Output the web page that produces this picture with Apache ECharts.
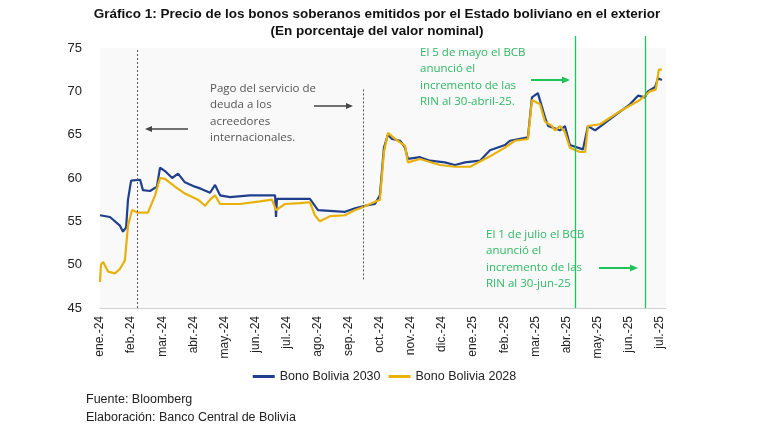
<!DOCTYPE html>
<html><head><meta charset="utf-8">
<script src="https://cdn.jsdelivr.net/npm/echarts@6/dist/echarts.min.js"></script>
<style>html,body{margin:0;background:#fff}#c{width:769px;height:430px}</style>
</head><body><div id="c"></div>
<script>
const months = ['ene.-24','feb.-24','mar.-24','abr.-24','may.-24','jun.-24','jul.-24','ago.-24','sep.-24','oct.-24','nov.-24','dic.-24','ene.-25','feb.-25','mar.-25','abr.-25','may.-25','jun.-25','jul.-25'];
// [month position, price]
const bono2030 = [[0,55.7],[0.32,55.5],[0.64,54.5],[0.74,53.8],[0.84,54.3],[0.9,57.5],[1.0,59.7],[1.29,59.8],[1.38,58.6],[1.61,58.5],[1.83,59],[1.93,61.2],[2.09,60.8],[2.32,60],[2.51,60.5],[2.73,59.5],[3.05,59],[3.22,58.8],[3.54,58.3],[3.7,59.2],[3.86,58],[4.18,57.8],[4.82,58],[5.63,58],[5.66,55.5],[5.69,57.6],[6.75,57.6],[7.01,56.3],[7.88,56.1],[8.2,56.5],[8.52,56.8],[8.84,57],[9.0,58],[9.13,63.5],[9.26,65],[9.39,64.5],[9.65,64.3],[9.81,63.5],[9.9,62.2],[10.29,62.4],[10.61,62],[11.09,61.8],[11.41,61.5],[11.74,61.8],[12.22,62],[12.54,63.2],[13.02,63.8],[13.18,64.3],[13.76,64.7],[13.89,69.3],[14.08,69.8],[14.31,67],[14.41,66],[14.79,65.5],[14.95,66],[15.11,63.8],[15.53,63.3],[15.69,66],[15.92,65.5],[16.4,66.8],[17.04,68.5],[17.3,69.5],[17.52,69.3],[17.62,70],[17.85,70.5],[17.94,71.5],[18.07,71.3]];
const bono2028 = [[0,48],[0.03,50],[0.1,50.3],[0.26,49.2],[0.48,49],[0.64,49.5],[0.8,50.5],[0.9,54.5],[1.03,56.3],[1.22,56],[1.54,56],[1.77,58],[1.93,60],[2.09,59.9],[2.41,59],[2.73,58.2],[3.15,57.5],[3.38,56.8],[3.54,57.5],[3.7,58],[3.86,57],[4.5,57],[5.14,57.3],[5.53,57.5],[5.66,56.3],[5.95,57],[6.43,57.1],[6.75,57.2],[6.91,55.7],[7.07,55],[7.4,55.6],[7.88,55.7],[8.2,56.3],[8.36,56.5],[8.68,57],[9.0,57.5],[9.13,63],[9.26,65.2],[9.49,64.5],[9.81,63.7],[9.9,61.8],[10.29,62.2],[10.93,61.5],[11.41,61.3],[11.9,61.3],[12.54,62.5],[13.02,63.5],[13.34,64.3],[13.76,64.5],[13.89,69],[14.15,68.5],[14.31,66.5],[14.53,66],[14.63,65.5],[14.79,66],[14.95,65.3],[15.11,63.5],[15.43,63],[15.6,63],[15.69,66],[16.08,66.2],[16.72,67.7],[17.36,69],[17.68,70],[17.87,70.2],[17.97,72.5],[18.07,72.5]];
const dashedMarks = [1.19, 8.46];
const greenMarks = [15.27, 17.52];

const chart = echarts.init(document.getElementById('c'));
const green = '#1ec45a', gtxt = '#2fb865';
chart.setOption({
  animation: false,
  textStyle: { fontFamily: 'Liberation Sans, Arial' },
  title: {
    text: 'Gráfico 1: Precio de los bonos soberanos emitidos por el Estado boliviano en el exterior\n(En porcentaje del valor nominal)',
    left: 372, top: 1, textAlign: 'center',
    textStyle: { fontSize: 13.5, fontWeight: 'bold', color: '#111', lineHeight: 17 }
  },
  grid: { left: 100, right: 103, top: 48, bottom: 122, backgroundColor: '#f9f9f9', show: true, borderWidth: 0 },
  xAxis: {
    type: 'value', min: 0, max: 18.2, interval: 1,
    axisLine: { lineStyle: { color: '#d0d0d0' } }, axisTick: { show: false }, splitLine: { show: false },
    axisLabel: { rotate: 90, fontSize: 12, color: '#222', showMaxLabel: false,
      formatter: v => months[Math.round(v)] || '' }
  },
  yAxis: {
    type: 'value', min: 45, max: 75, interval: 5,
    axisLine: { show: false }, axisTick: { show: false }, splitLine: { show: false },
    axisLabel: { fontSize: 13, color: '#222', margin: 18 }
  },
  legend: {
    bottom: 42, left: 'center', itemWidth: 22, itemHeight: 3, itemGap: 8,
    textStyle: { fontSize: 12.5, color: '#222' }, icon: 'rect',
    data: ['Bono Bolivia 2030', 'Bono Bolivia 2028']
  },
  series: [
    { name: 'Bono Bolivia 2030', type: 'line', data: bono2030, showSymbol: false,
      lineStyle: { color: '#203f8c', width: 2.2 }, itemStyle: { color: '#203f8c' } },
    { name: 'Bono Bolivia 2028', type: 'line', data: bono2028, showSymbol: false,
      lineStyle: { color: '#e8b10a', width: 2.2 }, itemStyle: { color: '#e8b10a' },
      markLine: { silent: true, symbol: 'none', label: { show: false },
        data: [
          { xAxis: dashedMarks[0], lineStyle: { color: '#555', type: [2, 2], width: 1 } },
          [{ coord: [dashedMarks[1], 48.3] }, { coord: [dashedMarks[1], 70.3], lineStyle: { color: '#555', type: [2, 2], width: 1 } }],
          [{ coord: [greenMarks[0], 75], y: 36 }, { coord: [greenMarks[0], 45], lineStyle: { color: green, type: 'solid', width: 1.3 } }],
          [{ coord: [greenMarks[1], 75], y: 36 }, { coord: [greenMarks[1], 45], lineStyle: { color: green, type: 'solid', width: 1.3 } }]
        ] } }
  ],
  graphic: [
    { type: 'text', left: 210, top: 80, style: { text: 'Pago del servicio de\ndeuda a los\nacreedores\ninternacionales.', fontSize: 11.5, lineHeight: 16.5, fill: '#555', fontFamily: 'Open Sans' } },
    { type: 'line', shape: { x1: 188, y1: 129, x2: 150, y2: 129 }, style: { stroke: '#444', lineWidth: 1.5 } },
    { type: 'polygon', shape: { points: [[145,129],[152,126],[152,132]] }, style: { fill: '#444' } },
    { type: 'line', shape: { x1: 314, y1: 106, x2: 348, y2: 106 }, style: { stroke: '#444', lineWidth: 1.5 } },
    { type: 'polygon', shape: { points: [[353,106],[346,103],[346,109]] }, style: { fill: '#444' } },
    { type: 'text', left: 420, top: 44, style: { text: 'El 5 de mayo el BCB\nanunció el\nincremento de las\nRIN al 30-abril-25.', fontSize: 11.5, lineHeight: 16.5, fill: gtxt, fontFamily: 'Open Sans' } },
    { type: 'line', shape: { x1: 531, y1: 80, x2: 564, y2: 80 }, style: { stroke: green, lineWidth: 2 } },
    { type: 'polygon', shape: { points: [[570,80],[562,76.5],[562,83.5]] }, style: { fill: green } },
    { type: 'text', left: 486, top: 226, style: { text: 'El 1 de julio el BCB\nanunció el\nincremento de las\nRIN al 30-jun-25', fontSize: 11.5, lineHeight: 16.5, fill: gtxt, fontFamily: 'Open Sans' } },
    { type: 'line', shape: { x1: 599, y1: 268, x2: 632, y2: 268 }, style: { stroke: green, lineWidth: 2 } },
    { type: 'polygon', shape: { points: [[638,268],[630,264.5],[630,271.5]] }, style: { fill: green } },
    { type: 'text', left: 86, top: 391, style: { text: 'Fuente: Bloomberg\nElaboración: Banco Central de Bolivia', fontSize: 12.5, lineHeight: 18, fill: '#222' } }
  ]
});
</script></body></html>
